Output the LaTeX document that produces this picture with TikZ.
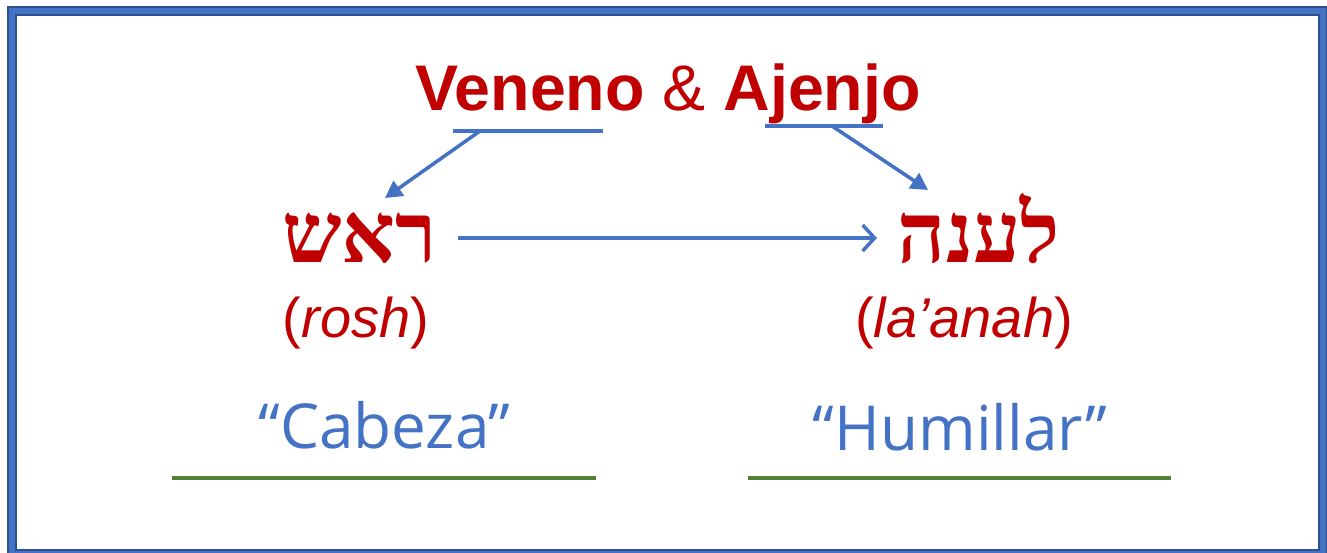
\documentclass[tikz,border=0pt]{standalone}
\usepackage{fontspec}
\setmainfont{Liberation Sans}
\newfontfamily\hebfont[Script=Hebrew]{Liberation Serif}
\newfontfamily\handfont{Open Sans}
\TeXXeTstate=1
\usetikzlibrary{arrows.meta}
\definecolor{tred}{HTML}{C00000}
\definecolor{tblue}{HTML}{4472C4}
\definecolor{tdark}{HTML}{2F528F}
\definecolor{tgreen}{HTML}{548235}
\tikzset{
  txt/.style={inner sep=0pt, anchor=base},
  titletxt/.style={txt, text=tred, font=\fontsize{64.5}{70}\selectfont},
  hebtxt/.style={txt, text=tred, font=\hebfont\bfseries\fontsize{84}{90}\selectfont},
  translit/.style={txt, text=tred, font=\fontsize{56}{60}\selectfont},
  meaning/.style={txt, text=tblue, font=\handfont\fontsize{62}{66}\selectfont},
  uline/.style={draw=tblue, line width=3.5pt},
  gline/.style={draw=tgreen, line width=3.5pt},
  diagarrow/.style={draw=tblue, line width=3.5pt, -{Triangle[length=17pt,width=18pt]}},
  horarrow/.style={draw=tblue, line width=3.5pt, -{Straight Barb[length=12pt,width=26pt,line width=3.5pt]}},
}
\begin{document}
\begin{tikzpicture}[x=1pt,y=-1pt]
\useasboundingbox (0,0) rectangle (1327,552);
\fill[white] (0,0) rectangle (1327,552);
% frame
\draw[tdark, line width=10pt] (11.85,11) rectangle (1322.85,554.15);
\draw[tblue, line width=6pt] (11.85,11) rectangle (1322.85,554.15);
% title
\node[titletxt] (title) at (668,110) {\textbf{Veneno} \& \textbf{Ajenjo}};
% underlines
\coordinate (ulAs) at (453,131);
\coordinate (ulAe) at (603,131);
\coordinate (ulBs) at (765,126);
\coordinate (ulBe) at (883,126);
\draw[uline] (ulAs) -- (ulAe);
\draw[uline] (ulBs) -- (ulBe);
% hebrew words
\node[hebtxt] (rosh) at (359.5,262) {\beginR ראש\endR};
\node[hebtxt] (laanah) at (979,262) {\beginR לענה\endR};
% arrows
\coordinate (aAs) at (480,131);
\coordinate (aAe) at (385,198);
\coordinate (aBs) at (832,126);
\coordinate (aBe) at (928,190);
\draw[diagarrow] (aAs) -- (aAe);
\draw[diagarrow] (aBs) -- (aBe);
\coordinate (hs) at (458,238);
\coordinate (he) at (877,238);
\draw[horarrow] (hs) -- (he);
% transliterations
\node[translit] (tr1) at (356,337) {(\textit{rosh})};
\node[translit] (tr2) at (964,337) {(\textit{la’anah})};
% meanings
\node[meaning] (m1) at (384.5,448) {“Cabeza”};
\node[meaning] (m2) at (960,450) {“Humillar”};
% green lines
\coordinate (g1s) at (172,478);
\coordinate (g1e) at (596,478);
\coordinate (g2s) at (748,478);
\coordinate (g2e) at (1171,478);
\draw[gline] (g1s) -- (g1e);
\draw[gline] (g2s) -- (g2e);
\end{tikzpicture}
\end{document}
